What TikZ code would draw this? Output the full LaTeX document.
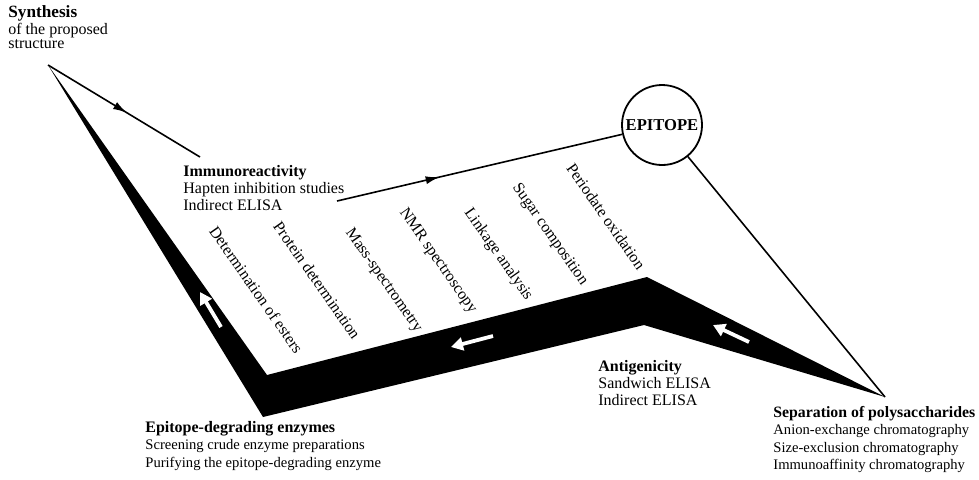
\documentclass[tikz,border=0pt]{standalone}
\usepackage{fontspec}
\setmainfont{Liberation Serif}
\usetikzlibrary{arrows.meta,decorations.markings}

\begin{document}
\begin{tikzpicture}[
        x=0.5pt, y=-0.5pt,
        font=\fontsize{8}{8.6}\selectfont,
        >=Latex,
        stage/.style={anchor=north west, align=left, inner sep=0pt},
        smallstage/.style={stage, font=\fontsize{7.3}{8.7}\selectfont},
        method/.style={anchor=west, rotate=-55, inner sep=0pt},
        hub/.style={draw, circle, line width=0.9pt, minimum size=40pt, inner sep=0pt, font=\fontsize{8.3}{9}\selectfont\bfseries},
        link/.style={draw=black, line width=0.8pt},
        midarrow/.style={link, postaction={decorate}, decoration={markings, mark=at position #1 with {\arrow{Latex[length=7pt,width=4pt]}}}},
        band/.style={fill=black},
        flow/.style={draw=white, line width=1.9pt, -{Triangle[length=6pt,width=6.5pt]}}
    ]
        \useasboundingbox (0,0) rectangle (979,479);

        % corners of the black band
        \coordinate (synthtip) at (48,65);
        \coordinate (outcorner) at (263,417);
        \coordinate (incorner) at (267,375);
        \coordinate (peak) at (647,277);
        \coordinate (notch) at (644,325);
        \coordinate (septip) at (885,397);
        \fill[band] (synthtip) -- (outcorner) -- (notch) -- (septip) -- (peak) -- (incorner) -- cycle;

        % white arrows inside the band
        \coordinate (lefttail) at (221,327);
        \coordinate (lefthead) at (200,292);
        \coordinate (bottomtail) at (493,336);
        \coordinate (bottomhead) at (451,347);
        \coordinate (righttail) at (749,342);
        \coordinate (righthead) at (713,325);
        \draw[flow] (lefttail) -- (lefthead);
        \draw[flow] (bottomtail) -- (bottomhead);
        \draw[flow] (righttail) -- (righthead);

        \node[stage, font=\fontsize{8}{7.2}\selectfont] (synthesis) at (8,5) {{\fontsize{8.6}{7.2}\selectfont\bfseries Synthesis}\\of the proposed\\structure};
        \node[stage] (immuno) at (183,165) {\textbf{Immunoreactivity}\\Hapten inhibition studies\\Indirect ELISA};
        \node[stage] (antigen) at (598,360) {\textbf{Antigenicity}\\Sandwich ELISA\\Indirect ELISA};
        \node[smallstage] (enzymes) at (145,421) {{\fontsize{8}{8.7}\selectfont\bfseries Epitope-degrading enzymes}\\Screening crude enzyme preparations\\Purifying the epitope-degrading enzyme};
        \node[smallstage] (separation) at (773,406) {{\fontsize{7.9}{8.7}\selectfont\bfseries Separation of polysaccharides}\\Anion-exchange chromatography\\Size-exclusion chromatography\\Immunoaffinity chromatography};

        \node[hub] (epitope) at (662,125) {EPITOPE};

        \node[method] (esters) at (213,228) {Determination of esters};
        \node[method] (protein) at (277,223) {Protein determination};
        \node[method] (mass) at (348,230) {Mass-spectrometry};
        \node[method] (nmr) at (402,210) {NMR spectroscopy};
        \node[method] (linkage) at (467,210) {Linkage analysis};
        \node[method] (sugar) at (515,185) {Sugar composition};
        \node[method] (periodate) at (570,165) {Periodate oxidation};

        \coordinate (immunotop) at (200,157);
        \coordinate (elisaend) at (337,201);
        \draw[midarrow=0.52] (synthtip) -- (immunotop);
        \draw[midarrow=0.36] (elisaend) -- (epitope);
        \draw[link] (epitope) -- (septip);
    \end{tikzpicture}
\end{document}
